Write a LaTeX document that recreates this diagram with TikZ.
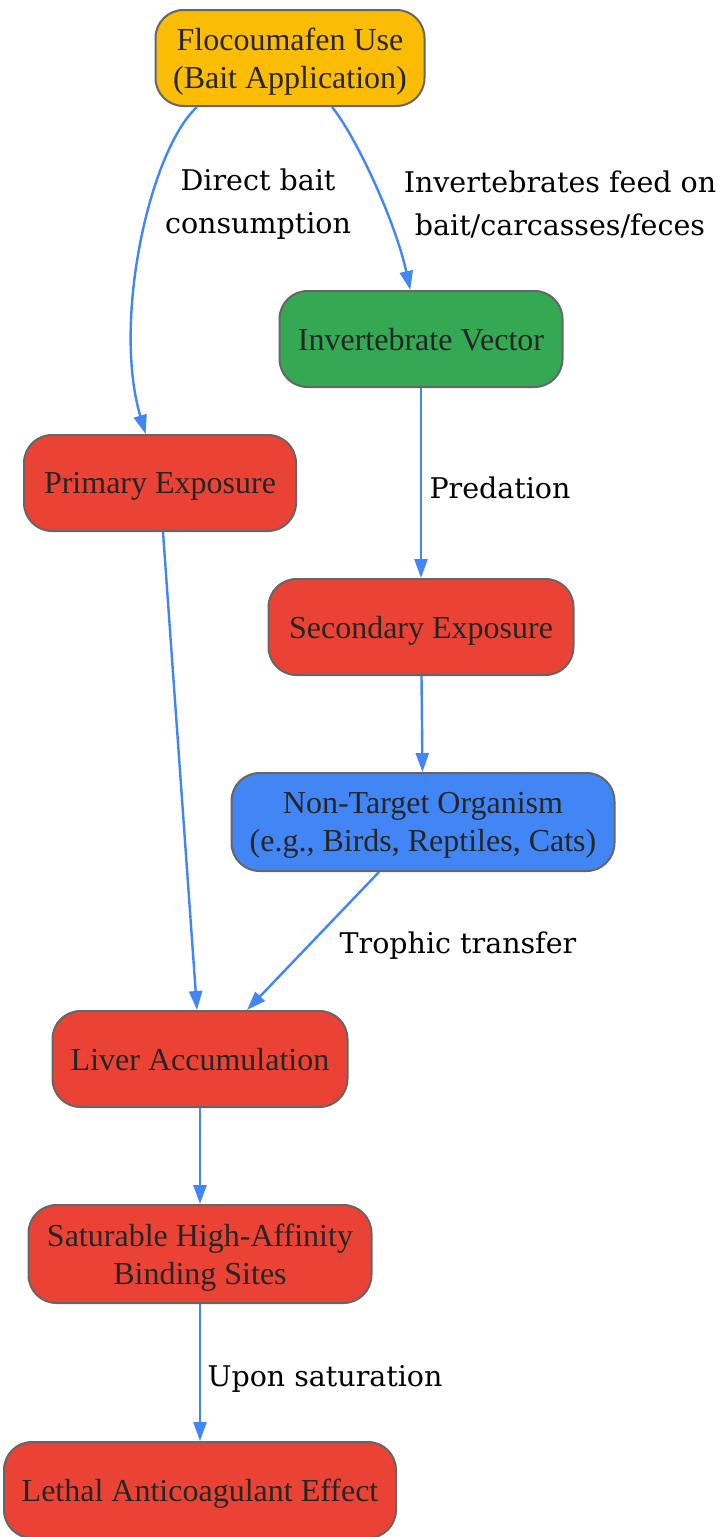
\documentclass[tikz,border=0pt]{standalone}
\usepackage{fontspec}
\setmainfont{Liberation Serif}
\newfontfamily\labelfont{DejaVu Serif}
\usetikzlibrary{arrows.meta}

\definecolor{baitYellow}{HTML}{FBBC04}
\definecolor{vecGreen}{HTML}{34A853}
\definecolor{riskRed}{HTML}{EA4335}
\definecolor{orgBlue}{HTML}{4285F4}
\definecolor{frameGray}{HTML}{666666}
\definecolor{textGray}{HTML}{262626}

\tikzset{
  box/.style={draw=frameGray, line width=2pt, rounded corners=28pt,
    minimum height=96pt, align=center, text=textGray, text depth=0pt,
    font=\fontsize{32}{38}\selectfont},
  flow/.style={draw=orgBlue, line width=2.4pt,
    -{Triangle[length=19pt,width=13pt]}},
  edgelabel/.style={align=center, font=\labelfont\fontsize{28.5}{43}\selectfont}
}

\begin{document}
\begin{tikzpicture}[x=1pt,y=-1pt]

% white page with the reference's size
\useasboundingbox[fill=white] (0,0) rectangle (720,1537);

% boxes
\node[box, fill=baitYellow, minimum width=269pt] (bait) at (290,58) {Flocoumafen Use\\(Bait Application)};
\node[box, fill=vecGreen, minimum width=283pt] (vector) at (421,339) {Invertebrate Vector};
\node[box, fill=riskRed, minimum width=272pt] (primary) at (160,483) {Primary Exposure};
\node[box, fill=riskRed, minimum width=305pt] (secondary) at (421,627) {Secondary Exposure};
\node[box, fill=orgBlue, minimum width=383pt, minimum height=98pt] (nontarget) at (423,822) {Non-Target Organism\\(e.g., Birds, Reptiles, Cats)};
\node[box, fill=riskRed, minimum width=295pt] (liver) at (200,1059) {Liver Accumulation};
\node[box, fill=riskRed, minimum width=343pt, minimum height=98pt] (sites) at (200,1254) {Saturable High-Affinity\\Binding Sites};
\node[box, fill=riskRed, minimum width=392pt] (lethal) at (200,1490) {Lethal Anticoagulant Effect};

% connectors
\draw[flow] ([xshift=-93pt]bait.south) .. controls (150,150) and (112,320) .. (primary);
\draw[flow] ([xshift=42pt]bait.south) .. controls (355,135) and (395,220) .. (vector);
\draw[flow] (vector) -- (secondary);
\draw[flow] (secondary) -- (nontarget);
\draw[flow] ([xshift=3pt]primary.south) -- ([xshift=-3pt]liver.north);
\draw[flow] ([xshift=-44pt]nontarget.south) -- ([xshift=47pt]liver.north);
\draw[flow] (liver) -- (sites);
\draw[flow] (sites) -- (lethal);

% connector labels
\node[edgelabel] (lblDirect) at (258,204) {Direct bait\\consumption};
\node[edgelabel] (lblFeed) at (560,204) {Invertebrates feed on\\bait/carcasses/feces};
\node[edgelabel] (lblPred) at (500,488) {Predation};
\node[edgelabel] (lblTrophic) at (458,946) {Trophic transfer};
\node[edgelabel] (lblSat) at (325,1379) {Upon saturation};

\end{tikzpicture}
\end{document}
